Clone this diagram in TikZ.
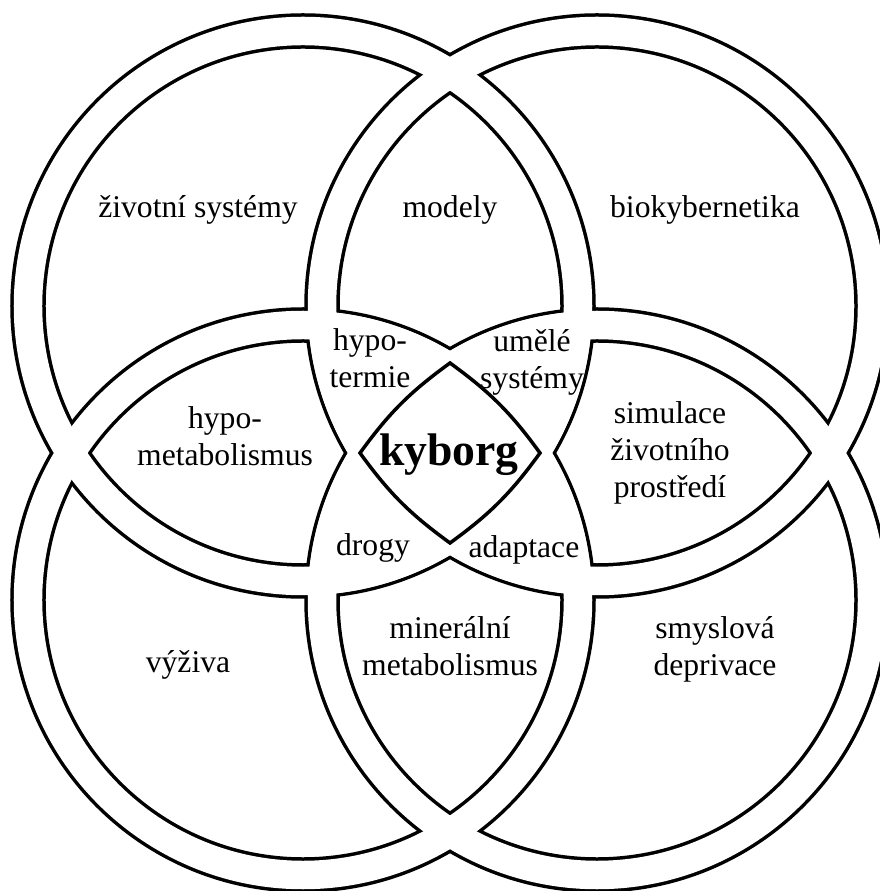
\documentclass[tikz,border=0pt]{standalone}
\usepackage{fontspec}
\setmainfont{Liberation Serif}

\begin{document}
\begin{tikzpicture}[x=0.02cm, y=0.02cm]

    % TikZ styles for drawing %%%%%%%%%%%%%%%%%%%%%%%%%%%%%%%%%%%%%%%%%%%%%%%%%%%%%%
    \tikzstyle{ringout} = [draw=black,line width=0.71cm]
    \tikzstyle{ringin} = [draw=white,line width=0.57cm]
    \tikzstyle{hub} = [draw=black,fill=white,line width=0.07cm]
    \tikzstyle{region} = [align=center,inner sep=0pt,font=\fontsize{18}{21}\selectfont]
    \tikzstyle{core} = [inner sep=0pt,font=\fontsize{26}{30}\selectfont\bfseries]

    \useasboundingbox (-450,-438) rectangle (429,453);

    % Ring centres %%%%%%%%%%%%%%%%%%%%%%%%%%%%%%%%%%%%%%%%%%%%%%%%%%%%%%%%%%%%%%%%%%%%%
    \coordinate (tl) at (-147, 147);
    \coordinate (tr) at (147, 147);
    \coordinate (bl) at (-147, -147);
    \coordinate (br) at (147, -147);

    % Rings: all black bands first, then the white inside %%%%%%%%%%%%%%%%%%%%%%%%%%%%
    \foreach \c in {tl,tr,bl,br}
      \draw[ringout] (\c) circle (275);
    \foreach \c in {tl,tr,bl,br}
      \draw[ringin] (\c) circle (275);

    % Clear the middle, where three rings or more overlap %%%%%%%%%%%%%%%%%%%%%%%%%%%%
    \foreach \a/\b/\c in {tl/tr/bl, tl/tr/br, tl/bl/br, tr/bl/br} {
      \begin{scope}
        \clip (\a) circle (289.2);
        \clip (\b) circle (289.2);
        \fill[white] (\c) circle (289.2);
      \end{scope}
    }

    % Centre field %%%%%%%%%%%%%%%%%%%%%%%%%%%%%%%%%%%%%%%%%%%%%%%%%%%%%%%%%%%%%%%%%%%%%
    \coordinate (hw) at (-90, 0);
    \coordinate (hn) at (0, 90);
    \coordinate (he) at (90, 0);
    \coordinate (hs) at (0, -90);
    \draw[hub] (hw) to[bend left=9] (hn) to[bend left=9] (he)
                    to[bend left=9] (hs) to[bend left=9] (hw) -- cycle;

    % Texts %%%%%%%%%%%%%%%%%%%%%%%%%%%%%%%%%%%%%%%%%%%%%%%%%%%%%%%%%%%%%%%%%%%%%%%%%%%%
    \node[region] (lifesys) at (-252, 243) {životní systémy};
    \node[region] (models) at (0, 243) {modely};
    \node[region] (biocyb) at (255, 243) {biokybernetika};
    \node[region] (hypoterm) at (-80, 95) {hypo-\\termie};
    \node[region] (artsys) at (82, 91) {umělé\\systémy};
    \node[region] (hypometab) at (-225, 17) {hypo-\\metabolismus};
    \node[core] (cyborg) at (-1, -2) {kyborg};
    \node[region] (simenv) at (220, 0) {simulace\\životního\\prostředí};
    \node[region] (drugs) at (-77, -95) {drogy};
    \node[region] (adapt) at (74, -97) {adaptace};
    \node[region] (mineral) at (0, -193) {minerální\\metabolismus};
    \node[region] (nutrition) at (-262, -212) {výživa};
    \node[region] (sensdep) at (265, -196) {smyslová\\deprivace};

\end{tikzpicture}
\end{document}
